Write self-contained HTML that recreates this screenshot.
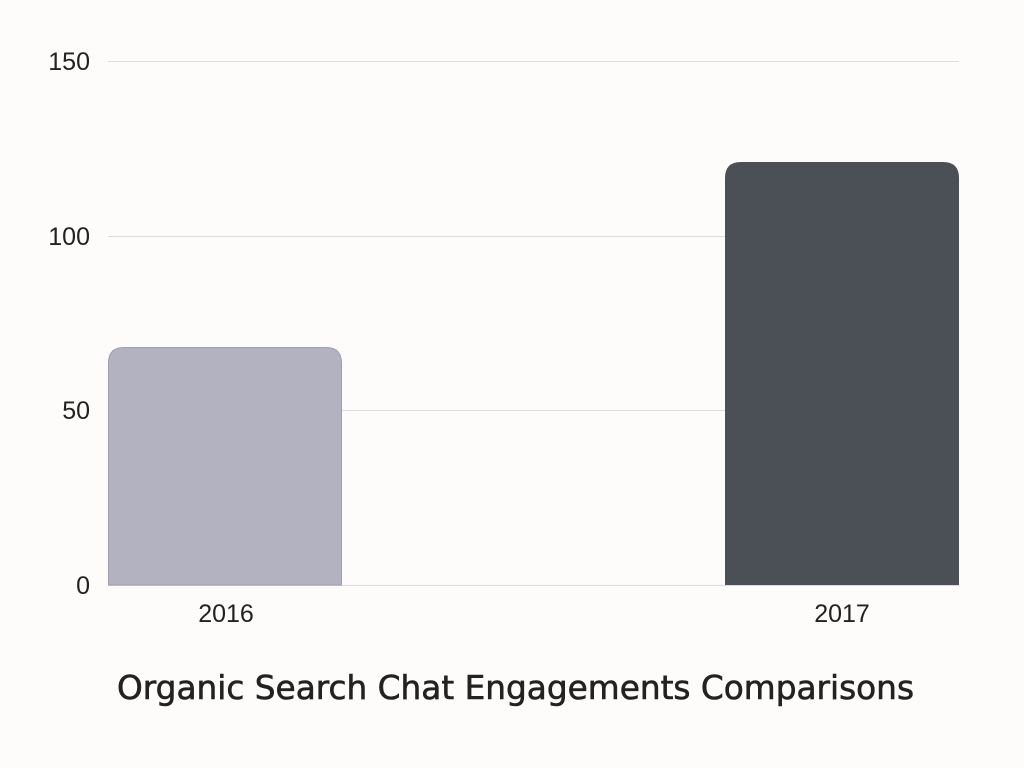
<!DOCTYPE html>
<html><head><meta charset="utf-8"><style>
html,body{margin:0;padding:0;background:#fdfcfa;}
</style></head><body>
<svg width="1024" height="768" xmlns="http://www.w3.org/2000/svg" style="display:block">
<rect width="1024" height="768" fill="#fdfcfa"/>
<g stroke="#dcdbe3" stroke-width="1">
<line x1="108" y1="61.5" x2="959" y2="61.5"/>
<line x1="108" y1="236.5" x2="959" y2="236.5"/>
<line x1="108" y1="410.5" x2="959" y2="410.5"/>
<line x1="108" y1="585.5" x2="959" y2="585.5"/>
</g>
<g font-family="Liberation Sans, sans-serif" font-size="25" fill="#222" text-anchor="end">
<text x="90" y="70">150</text>
<text x="90" y="245">100</text>
<text x="90" y="419">50</text>
<text x="90" y="594">0</text>
</g>
<path d="M108.5,585 V363 Q108.5,347.5 124,347.5 H326 Q341.5,347.5 341.5,363 V585 Z" fill="#b3b2c0" stroke="#9e9db2" stroke-width="1"/>
<path d="M725,585 V178 Q725,162 741,162 H943 Q959,162 959,178 V585 Z" fill="#4b4f56"/>
<g font-family="Liberation Sans, sans-serif" font-size="25" fill="#222" text-anchor="middle">
<text x="226" y="622">2016</text>
<text x="842" y="622">2017</text>
</g>
<text x="117" y="699" textLength="797" lengthAdjust="spacingAndGlyphs" font-family="DejaVu Sans, Liberation Sans, sans-serif" font-size="33" fill="#222" stroke="#222" stroke-width="0.6">Organic Search Chat Engagements Comparisons</text>
</svg>
</body></html>
